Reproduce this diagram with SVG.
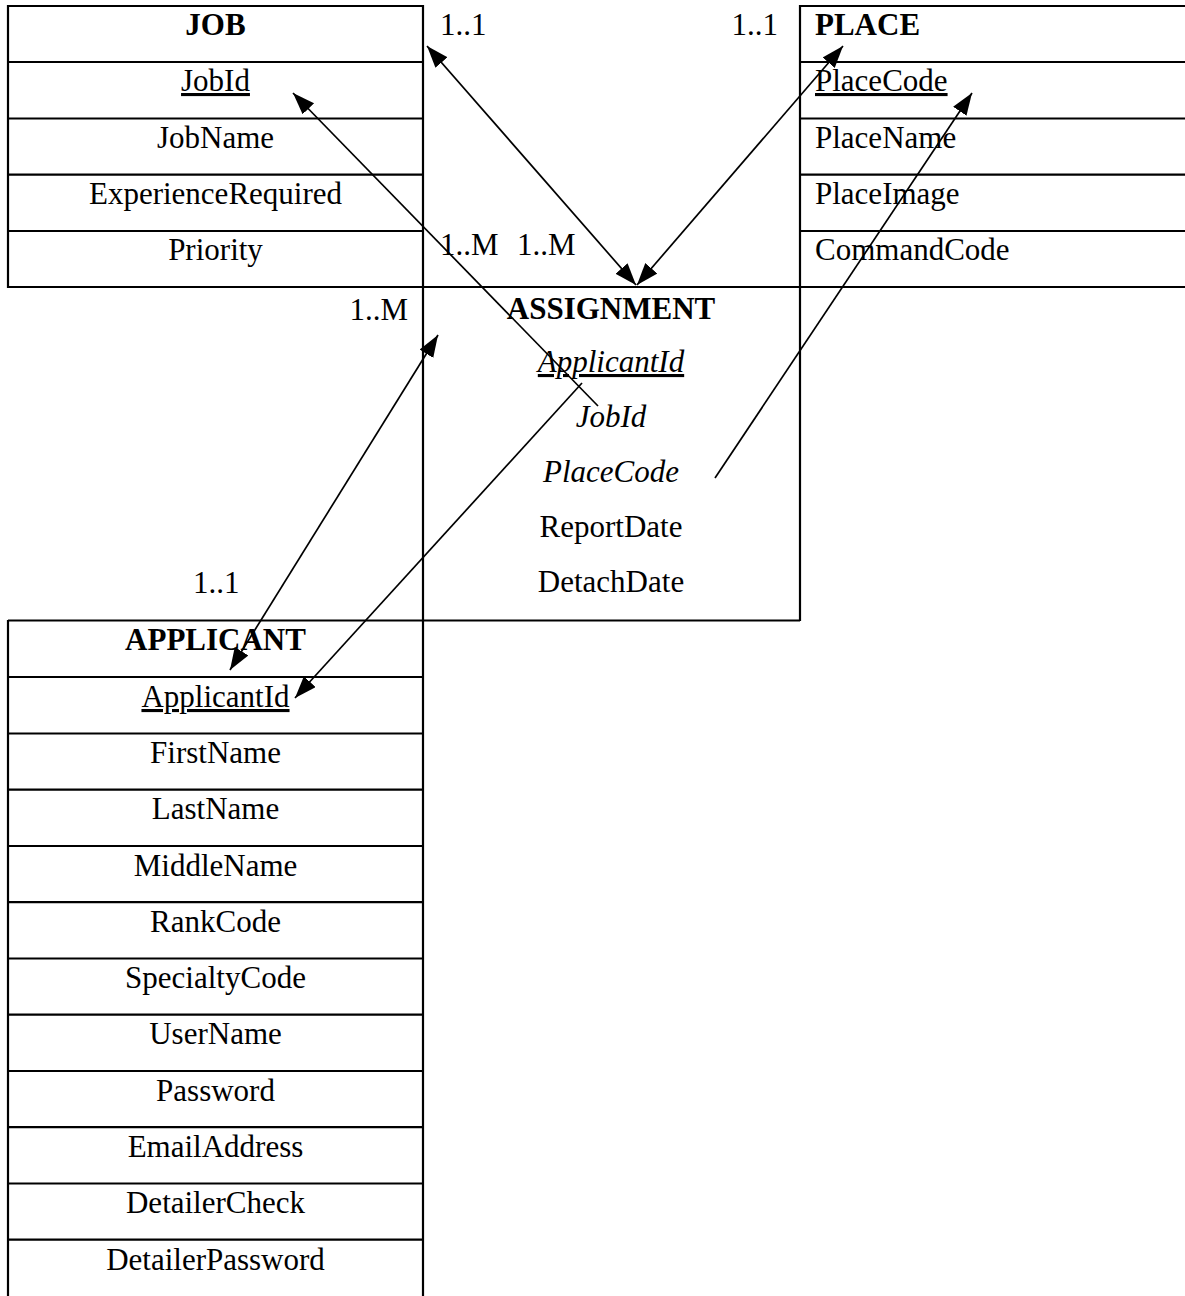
<svg xmlns="http://www.w3.org/2000/svg" width="1185" height="1296" viewBox="0 0 1185 1296">
<style>
text{font-family:"Liberation Serif","Times New Roman",serif;font-size:31px;fill:#000}
.c{text-anchor:middle}
.b{font-weight:bold}
.i{font-style:italic}
.u{text-decoration:underline}
.t line{stroke:#000;stroke-width:2.2}
.conn line{stroke:#000;stroke-width:1.7}
</style>
<defs>
<marker id="ah" markerUnits="userSpaceOnUse" markerWidth="24" markerHeight="18" refX="22" refY="8" orient="auto-start-reverse" viewBox="0 0 24 18">
<path d="M0,0 L22,8 L0,16 z" fill="#000"/>
</marker>
</defs>
<rect width="1185" height="1296" fill="#fff"/>

<g id="table-lines" class="t">
<line x1="8" y1="6" x2="423" y2="6"/>
<line x1="800" y1="6" x2="1185" y2="6"/>
<line x1="8" y1="62" x2="423" y2="62"/>
<line x1="8" y1="118.5" x2="423" y2="118.5"/>
<line x1="8" y1="174.7" x2="423" y2="174.7"/>
<line x1="8" y1="231" x2="423" y2="231"/>
<line x1="800" y1="62" x2="1185" y2="62"/>
<line x1="800" y1="118.5" x2="1185" y2="118.5"/>
<line x1="800" y1="174.7" x2="1185" y2="174.7"/>
<line x1="800" y1="231" x2="1185" y2="231"/>
<line x1="8" y1="287" x2="1185" y2="287"/>
<line x1="8" y1="5" x2="8" y2="288"/>
<line x1="423" y1="5" x2="423" y2="1296"/>
<line x1="800" y1="5" x2="800" y2="621"/>
<line x1="8" y1="620.5" x2="800" y2="620.5"/>
<line x1="8" y1="620" x2="8" y2="1296"/>
<line x1="8" y1="677" x2="423" y2="677"/>
<line x1="8" y1="733.5" x2="423" y2="733.5"/>
<line x1="8" y1="789.7" x2="423" y2="789.7"/>
<line x1="8" y1="846" x2="423" y2="846"/>
<line x1="8" y1="902.2" x2="423" y2="902.2"/>
<line x1="8" y1="958.5" x2="423" y2="958.5"/>
<line x1="8" y1="1014.7" x2="423" y2="1014.7"/>
<line x1="8" y1="1071" x2="423" y2="1071"/>
<line x1="8" y1="1127.2" x2="423" y2="1127.2"/>
<line x1="8" y1="1183.5" x2="423" y2="1183.5"/>
<line x1="8" y1="1239.7" x2="423" y2="1239.7"/>
</g>

<g id="job">
<text class="c b" x="215.5" y="35">JOB</text>
<text class="c u" x="215.5" y="91">JobId</text>
<text class="c" x="215.5" y="148">JobName</text>
<text class="c" x="215.5" y="204">ExperienceRequired</text>
<text class="c" x="215.5" y="260">Priority</text>
</g>

<g id="place">
<text class="b" x="815" y="35">PLACE</text>
<text class="u" x="815" y="91">PlaceCode</text>
<text x="815" y="148">PlaceName</text>
<text x="815" y="204">PlaceImage</text>
<text x="815" y="260">CommandCode</text>
</g>

<g id="assignment">
<text class="c b" x="611" y="319">ASSIGNMENT</text>
<text class="c i u" x="611" y="372">ApplicantId</text>
<text class="c i" x="611" y="427">JobId</text>
<text class="c i" x="611" y="482">PlaceCode</text>
<text class="c" x="611" y="537">ReportDate</text>
<text class="c" x="611" y="592">DetachDate</text>
</g>

<g id="applicant">
<text class="c b" x="215.5" y="650">APPLICANT</text>
<text class="c u" x="215.5" y="707">ApplicantId</text>
<text class="c" x="215.5" y="763">FirstName</text>
<text class="c" x="215.5" y="819">LastName</text>
<text class="c" x="215.5" y="876">MiddleName</text>
<text class="c" x="215.5" y="932">RankCode</text>
<text class="c" x="215.5" y="988">SpecialtyCode</text>
<text class="c" x="215.5" y="1044">UserName</text>
<text class="c" x="215.5" y="1101">Password</text>
<text class="c" x="215.5" y="1157">EmailAddress</text>
<text class="c" x="215.5" y="1213">DetailerCheck</text>
<text class="c" x="215.5" y="1270">DetailerPassword</text>
</g>

<g id="connectors" class="conn">
<line x1="427" y1="46" x2="636" y2="285" marker-start="url(#ah)" marker-end="url(#ah)"/>
<line x1="843" y1="46" x2="637" y2="285" marker-start="url(#ah)" marker-end="url(#ah)"/>
<line x1="598" y1="406" x2="293" y2="93" marker-end="url(#ah)"/>
<line x1="715" y1="478" x2="972" y2="93" marker-end="url(#ah)"/>
<line x1="582" y1="383" x2="295" y2="698" marker-end="url(#ah)"/>
<line x1="438" y1="335" x2="230" y2="670" marker-start="url(#ah)" marker-end="url(#ah)"/>
</g>

<g id="labels">
<text x="440" y="35">1..1</text>
<text x="778" y="35" text-anchor="end">1..1</text>
<text x="440" y="255">1..M</text>
<text x="517" y="255">1..M</text>
<text x="408" y="320" text-anchor="end">1..M</text>
<text x="193" y="593">1..1</text>
</g>
</svg>
